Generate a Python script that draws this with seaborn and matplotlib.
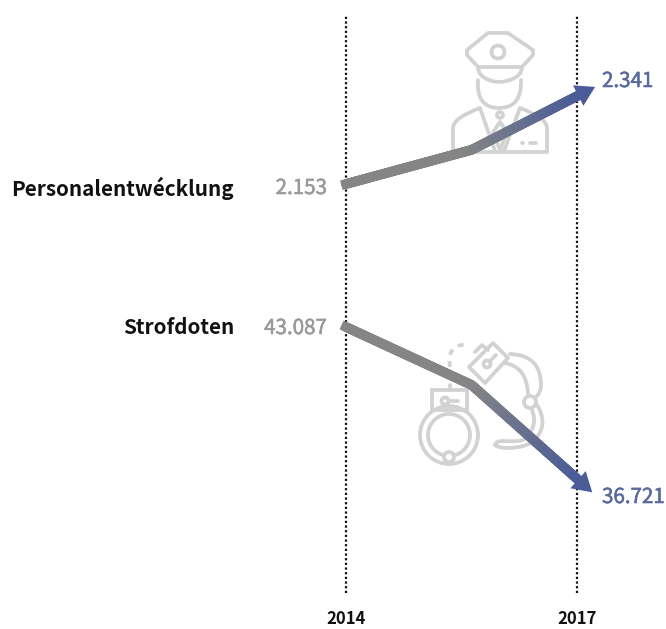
import numpy as np
import pandas as pd
import seaborn as sns
import matplotlib.pyplot as plt
import matplotlib.patheffects as pe
from matplotlib.collections import LineCollection
from matplotlib.colors import LinearSegmentedColormap
from matplotlib.patches import Circle, PathPatch, Polygon, Rectangle
from matplotlib.path import Path
from matplotlib.transforms import Affine2D, IdentityTransform

# --- data ---
years = [2014, 2015.63, 2017]
tick_years = [2014, 2017]
staff = [2153, 2226, 2341]
crimes = [43087, 40658, 36721]
label_staff = "Personalentwécklung"
label_crimes = "Strofdoten"

GREY = "#858585"
BLUE = "#4a5b98"
ICON = "#d2d2d2"
W, H = 666, 629

sns.set_theme(style="white")
plt.rcParams['font.family'] = ['Noto Sans CJK SC', 'DejaVu Sans']

fig = plt.figure(figsize=(W / 100, H / 100), dpi=100, facecolor="white")
ax = fig.add_axes([0, 0, 1, 1])
ax2 = ax.twinx()
ax2.set_position([0, 0, 1, 1])
for a in (ax, ax2):
    a.set_axis_off()
    a.set_xlim(2014 - 346 / 77.1, 2014 + (W - 346) / 77.1)
ax.set_ylim(2153 - 445 / 0.468, 2153 + 184 / 0.468)
ax2.set_ylim(43087 - 302 / 0.02388, 43087 + 327 / 0.02388)
ax.set_zorder(2)
ax2.set_zorder(3)

# pixel coordinates with the origin top left, used for icons and text
px = Affine2D().scale(1, -1).translate(0, H)
ICON_LW = 2.7


def add(patch):
    patch.set_transform(px)
    patch.set_zorder(1)
    ax.add_patch(patch)


def stroke(xs, ys, **kw):
    ax.plot(xs, ys, transform=px, color=ICON, lw=ICON_LW, solid_capstyle="round",
            solid_joinstyle="round", zorder=1, **kw)


def curve(*pts):
    # first point, then (control, end) pairs of quadratic beziers
    codes = [Path.MOVETO] + [Path.CURVE3] * (len(pts) - 1)
    add(PathPatch(Path(pts, codes), fill=False, ec=ICON, lw=ICON_LW, capstyle="round"))


def ring(x, y, r, fc="none"):
    add(Circle((x, y), r, fc=fc, ec=ICON, lw=ICON_LW))


def poly(*pts):
    add(Polygon(pts, closed=True, fill=False, ec=ICON, lw=ICON_LW, joinstyle="round"))


def policeman():
    # cap
    poly((467, 50), (488, 33), (508, 33), (533, 50), (533, 55), (522, 67), (478, 67), (467, 55))
    ring(498, 52, 6.5)
    curve((478, 67), (478, 76), (489, 80), (499, 84), (510, 80), (522, 76), (522, 67))
    # face
    curve((478, 80), (476, 108), (499, 108), (522, 108), (521, 80))
    # body
    curve((453, 151), (453, 140), (453, 128), (453, 118), (480, 108))
    curve((547, 151), (547, 140), (547, 128), (547, 118), (520, 108))
    stroke([453, 547], [152, 152])
    stroke([480, 495], [108, 151])
    stroke([520, 504], [108, 151])
    poly((500, 122), (493, 132), (500, 150), (507, 132))
    ring(500, 115, 3)
    stroke([522, 523], [143, 143])
    stroke([530, 536], [143, 143])


def handcuffs():
    # lower cuff
    add(Rectangle((432, 390), 35, 20, fill=False, ec=ICON, lw=ICON_LW))
    stroke([450, 450], [385, 390])
    ring(445, 401, 3.5)
    stroke([449, 458], [401, 401])
    ring(449, 435, 29)
    ring(449, 435, 21)
    ring(449, 457, 5, fc="white")
    # dashed chain
    xs = [450, 449, 451, 455, 461, 470]
    ys = [367, 358, 352, 347, 345, 344]
    stroke(xs, ys, linestyle=(0, (1.6, 1.7)))
    # upper cuff
    poly((493, 343), (508, 358), (485, 383), (469, 367))
    stroke([475, 482, 488], [352, 345, 350])
    ring(487, 364, 3.5)
    stroke([490, 496], [361, 355])
    curve((510, 354), (541, 355), (541, 385), (541, 393), (535, 398))
    curve((505, 363), (527, 367), (528, 394))
    ring(530, 402, 6, fc="white")
    curve((537, 405), (548, 423), (537, 437), (530, 448), (507, 448), (499, 448), (495, 445))
    curve((532, 410), (539, 427), (523, 440), (517, 442), (503, 441), (496, 441), (495, 445))


policeman()
handcuffs()

# dotted year rules
for year in tick_years:
    ax.axvline(year, ymin=1 - 593 / H, ymax=1 - 15 / H, color="#111111", lw=1.6,
               linestyle=(0, (1, 1.1)), zorder=4)

cmap = LinearSegmentedColormap.from_list("fade", [GREY, GREY, BLUE])


def gradient_arrow(a, values, tip_len, width=7.0):
    df = pd.DataFrame({"year": years, "value": values})
    sns.lineplot(data=df, x="year", y="value", ax=a, color=GREY, lw=width, legend=False,
                 solid_joinstyle="round", solid_capstyle="projecting", zorder=5, errorbar=None)
    a.set_xlabel("")
    a.set_ylabel("")

    # work in screen pixels so the shaft and head share a geometry
    pts = a.transData.transform(np.column_stack([years, values]))
    unit = pts[-1] - pts[-2]
    unit = unit / np.linalg.norm(unit)
    normal = np.array([-unit[1], unit[0]])
    tip = pts[-1] + unit * tip_len
    base = tip - unit * 19
    path = np.vstack([pts[:-1], base])

    lengths = np.r_[0, np.cumsum(np.linalg.norm(np.diff(path, axis=0), axis=1))]
    steps = np.linspace(0, lengths[-1], 120)
    fine = np.column_stack([np.interp(steps, lengths, path[:, 0]), np.interp(steps, lengths, path[:, 1])])
    segs = np.stack([fine[:-1], fine[1:]], axis=1)
    lc = LineCollection(segs, cmap=cmap, linewidths=width, capstyle="round", transform=IdentityTransform(),
                        zorder=6)
    lc.set_array(steps[:-1] / lengths[-1])
    lc.set_clim(0, 1)
    a.add_collection(lc, autolim=False)

    head = [tip, base + normal * 11.5, base - normal * 11.5]
    a.add_patch(Polygon(head, closed=True, fc=BLUE, ec="none", transform=IdentityTransform(), zorder=7))


gradient_arrow(ax, staff, 20)
gradient_arrow(ax2, crimes, 20)


def german(v):
    return f"{v:,}".replace(",", ".")


def value_label(x, y, value, ha, color):
    t = ax2.text(x, y, german(value), ha=ha, fontsize=14.8, color=color, **txt)
    t.set_path_effects([pe.withStroke(linewidth=0.4, foreground=color)])


# labels
txt = dict(transform=px, va="center", zorder=8)
ax2.text(234, 188, label_staff, ha="right", fontsize=14.9, fontweight="bold", color="#111111", **txt)
ax2.text(234, 328, label_crimes, ha="right", fontsize=14.9, fontweight="bold", color="#111111", **txt)
value_label(327, 188, staff[0], "right", "#999999")
value_label(327, 328, crimes[0], "right", "#999999")
value_label(602, 81, staff[-1], "left", "#5a6a9c")
value_label(602, 497, crimes[-1], "left", "#5a6a9c")
for year, x in zip(tick_years, (346, 577)):
    ax2.text(x, 619, str(year), ha="center", fontsize=12, fontweight="bold", color="#111111", **txt)

fig.savefig("out.png", dpi=100, facecolor="white")
